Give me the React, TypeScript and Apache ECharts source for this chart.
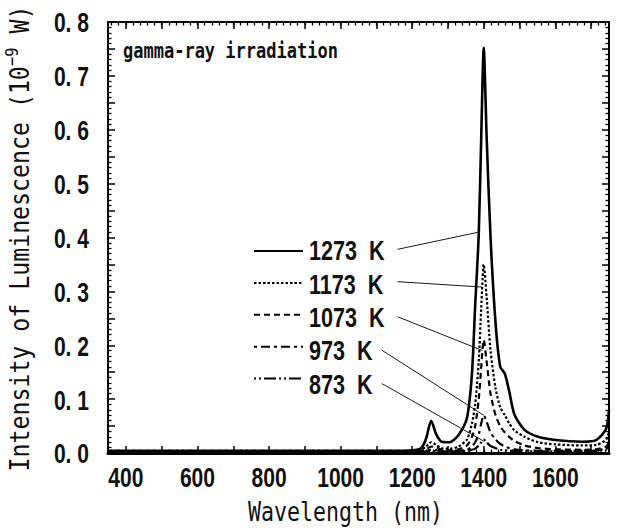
import React, { useEffect, useRef } from "react";
import * as echarts from "echarts";

// ---- data ----
const WAVELENGTH = [350, 600, 900, 1150, 1200, 1225, 1239, 1253, 1267, 1282, 1305, 1329, 1353, 1367, 1376, 1386, 1393, 1400, 1408, 1419, 1433, 1446, 1459, 1471, 1486, 1514, 1552, 1600, 1676, 1714, 1742, 1750];
const I_1273 = [0.004, 0.004, 0.004, 0.004, 0.005, 0.009, 0.027, 0.06, 0.035, 0.021, 0.02, 0.033, 0.065, 0.147, 0.273, 0.406, 0.588, 0.752, 0.588, 0.40, 0.241, 0.16, 0.147, 0.115, 0.071, 0.043, 0.030, 0.024, 0.021, 0.024, 0.045, 0.08];
const I_1173 = [0.003, 0.003, 0.003, 0.003, 0.004, 0.006, 0.012, 0.02, 0.015, 0.009, 0.008, 0.012, 0.025, 0.055, 0.09, 0.17, 0.27, 0.35, 0.29, 0.19, 0.12, 0.085, 0.07, 0.055, 0.042, 0.03, 0.02, 0.016, 0.014, 0.015, 0.025, 0.04];
const I_1073 = [0.003, 0.003, 0.003, 0.003, 0.003, 0.004, 0.007, 0.012, 0.01, 0.006, 0.005, 0.007, 0.014, 0.03, 0.05, 0.1, 0.16, 0.21, 0.17, 0.11, 0.07, 0.05, 0.038, 0.03, 0.022, 0.014, 0.009, 0.007, 0.006, 0.007, 0.012, 0.02];
const I_973 = [0.002, 0.002, 0.002, 0.002, 0.002, 0.003, 0.004, 0.006, 0.005, 0.004, 0.004, 0.004, 0.006, 0.012, 0.02, 0.035, 0.055, 0.07, 0.058, 0.038, 0.025, 0.017, 0.012, 0.009, 0.007, 0.005, 0.004, 0.004, 0.004, 0.005, 0.008, 0.012];
const I_873 = [0.002, 0.002, 0.002, 0.002, 0.002, 0.002, 0.003, 0.004, 0.003, 0.003, 0.003, 0.003, 0.004, 0.006, 0.008, 0.014, 0.02, 0.025, 0.02, 0.013, 0.009, 0.006, 0.005, 0.004, 0.004, 0.003, 0.003, 0.003, 0.003, 0.004, 0.006, 0.009];

const SERIES_NAMES = ["1273 K", "1173 K", "1073 K", "973 K", "873 K"];
const SERIES_VALUES = [I_1273, I_1173, I_1073, I_973, I_873];

// leader lines from legend labels to curves: [wavelength, intensity]
const LEADER_START = [[1159, 0.378], [1159, 0.318], [1159, 0.253], [1115, 0.191], [1115, 0.129]];
const LEADER_END = [[1386, 0.41], [1396, 0.308], [1397, 0.19], [1400, 0.07], [1400, 0.022]];

const X_LABELS = [400, 600, 800, 1000, 1200, 1400, 1600];
const Y_LABELS = [0, 0.1, 0.2, 0.3, 0.4, 0.5, 0.6, 0.7, 0.8];
const X_MAJOR_TICKS = [400, 500, 600, 700, 800, 900, 1000, 1100, 1200, 1300, 1400, 1500, 1600, 1700];
const X_MINOR_TICKS = Array.from({ length: 70 }, (_, i) => 360 + i * 20);

const TITLE = "gamma-ray irradiation";
const X_NAME = "Wavelength (nm)";
const Y_NAME = "Intensity of Luminescence (10{sup|−9} W)";

const X_MIN = 350;
const X_MAX = 1750;

const BOLD_SANS = "'Liberation Sans', Arial, sans-serif";
const MONO = "'DejaVu Sans Mono', 'Liberation Mono', monospace";

const LEGEND_TOP = 244;
const LEGEND_STEP = 33.3;

const LINE_STYLES: any[] = [
  { width: 2.6, type: "solid" },
  { width: 2.2, type: [2.5, 2] },
  { width: 2.2, type: [6, 4] },
  { width: 2.2, type: [3, 4, 9, 4] },
  { width: 2.2, type: [2, 3, 2, 3, 12, 3] },
];

export default function App() {
  const ref = useRef<HTMLDivElement>(null);
  useEffect(() => {
    document.body.style.margin = "0";
    const chart = echarts.init(ref.current!, null, { renderer: "svg" });
    const xCommon = { type: "value", min: X_MIN, max: X_MAX, splitLine: { show: false } };
    const yCommon = {
      type: "value",
      min: 0,
      max: 0.8,
      interval: 0.05,
      splitLine: { show: false },
      minorSplitLine: { show: false },
      axisLabel: { show: false },
      axisLine: { show: true, lineStyle: { color: "#000", width: 2 } },
      axisTick: { show: true, inside: true, length: 7, lineStyle: { color: "#000", width: 1.5 } },
      minorTick: { show: true, splitNumber: 5, length: 3.5, lineStyle: { color: "#000", width: 1.3 } },
    };
    const series = SERIES_NAMES.map((name, i) => ({
      name,
      type: "line",
      showSymbol: false,
      symbol: "none",
      smooth: 0.25,
      data: WAVELENGTH.map((w, j) => [w, SERIES_VALUES[i][j]]),
      lineStyle: { color: "#000", ...LINE_STYLES[i] },
      itemStyle: { color: "#000" },
      z: 5 - i,
      markLine: {
        silent: true,
        symbol: ["none", "none"],
        label: { show: false },
        lineStyle: { color: "#000", width: 0.9, type: "solid" },
        data: [[{ coord: LEADER_START[i] }, { coord: LEADER_END[i] }]],
      },
    }));
    chart.setOption({
      animation: false,
      backgroundColor: "#fff",
      grid: { left: 108, top: 22, right: 9, bottom: 76, containLabel: false },
      legend: {
        data: SERIES_NAMES,
        orient: "vertical",
        left: 253,
        top: LEGEND_TOP,
        padding: 0,
        itemWidth: 49,
        itemHeight: 14,
        itemGap: LEGEND_STEP - 14,
        itemStyle: { opacity: 0 },
        formatter: () => "",
        textStyle: { fontSize: 1 },
      },
      xAxis: [
        {
          ...xCommon,
          position: "bottom",
          axisLine: { show: true, lineStyle: { color: "#000", width: 3 } },
          axisTick: { show: true, inside: true, length: 7, customValues: X_MAJOR_TICKS, lineStyle: { color: "#000", width: 1.5 } },
          axisLabel: { show: false },
        },
        {
          ...xCommon,
          position: "bottom",
          axisLine: { show: false },
          axisTick: { show: true, inside: true, length: 3.5, customValues: X_MINOR_TICKS, lineStyle: { color: "#000", width: 1.3 } },
          axisLabel: { show: false },
        },
        {
          ...xCommon,
          position: "top",
          axisLine: { show: true, lineStyle: { color: "#000", width: 2 } },
          axisTick: { show: true, inside: true, length: 7, customValues: X_MAJOR_TICKS, lineStyle: { color: "#000", width: 1.5 } },
          axisLabel: { show: false },
        },
        {
          ...xCommon,
          position: "top",
          axisLine: { show: false },
          axisTick: { show: true, inside: true, length: 3.5, customValues: X_MINOR_TICKS, lineStyle: { color: "#000", width: 1.3 } },
          axisLabel: { show: false },
        },
      ],
      yAxis: [
        { ...yCommon, position: "left" },
        { ...yCommon, position: "right" },
      ],
      series,
    });

    // tick labels, legend texts and titles as condensed text, placed with the chart's own scales
    const px = (v: number) => chart.convertToPixel({ xAxisIndex: 0 }, v) as number;
    const py = (v: number) => chart.convertToPixel({ yAxisIndex: 0 }, v) as number;
    const graphics: any[] = [];
    const boldText = { fontFamily: BOLD_SANS, fontWeight: "bold", fontSize: 27, fill: "#111" };
    X_LABELS.forEach((v, i) => {
      graphics.push({
        type: "text", id: "xl" + i, x: px(v), y: py(0) + 25, scaleX: 0.78,
        style: { ...boldText, text: String(v), align: "center", verticalAlign: "middle" },
      });
    });
    Y_LABELS.forEach((v, i) => {
      graphics.push({
        type: "text", id: "yl" + i, x: 89, y: py(v) + 1, scaleX: 0.78,
        style: { ...boldText, text: v.toFixed(1).replace(".", ". "), align: "right", verticalAlign: "middle" },
      });
    });
    SERIES_NAMES.forEach((n, i) => {
      graphics.push({
        type: "text", id: "lg" + i, x: 309, y: LEGEND_TOP + 7 + i * LEGEND_STEP, scaleX: 0.8,
        style: { ...boldText, text: n.replace(" ", "  "), align: "left", verticalAlign: "middle" },
      });
    });
    graphics.push({
      type: "text", id: "title", x: 123, y: 51, scaleX: 0.81,
      style: { text: TITLE, fontFamily: MONO, fontWeight: "bold", fontSize: 21, fill: "#111", align: "left", verticalAlign: "middle" },
    });
    graphics.push({
      type: "text", id: "xname", x: (px(X_MIN) + px(X_MAX)) / 2 - 13, y: py(0) + 59, scaleX: 0.8,
      style: { text: X_NAME, fontFamily: MONO, fontSize: 27, fill: "#111", align: "center", verticalAlign: "middle" },
    });
    graphics.push({
      type: "text", id: "yname", x: 20, y: (py(0) + py(0.8)) / 2 + 1, rotation: Math.PI / 2, scaleX: 0.86,
      style: {
        text: Y_NAME, fontFamily: MONO, fontSize: 27, fill: "#111", align: "center", verticalAlign: "middle",
        rich: { sup: { fontFamily: MONO, fontSize: 18, fill: "#111", verticalAlign: "top", lineHeight: 34 } },
      },
    });
    chart.setOption({ graphic: graphics });
    return () => chart.dispose();
  }, []);
  return <div ref={ref} style={{ width: 618, height: 529 }} />;
}
